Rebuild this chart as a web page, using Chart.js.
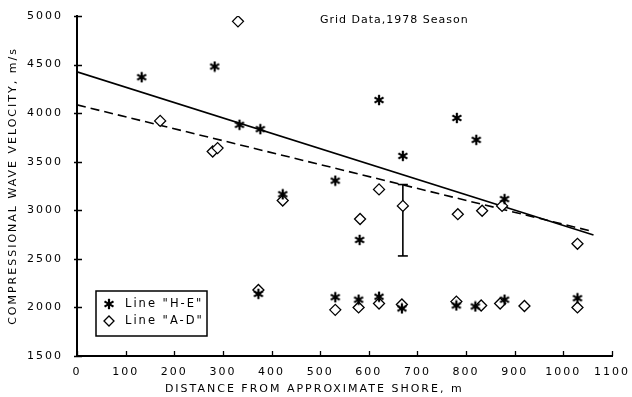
<!DOCTYPE html>
<html>
<head>
<meta charset="utf-8">
<script src="https://cdn.jsdelivr.net/npm/chart.js@4/dist/chart.umd.min.js"></script>
<style>
  html, body { margin: 0; padding: 0; background: #fff; }
  #wrap { width: 632px; height: 397px; }
</style>
</head>
<body>
<div id="wrap"><canvas id="c" width="632" height="397"></canvas></div>
<script>
// ---- Data ----
const xTicks = [0, 100, 200, 300, 400, 500, 600, 700, 800, 900, 1000, 1100];
const yTicks = [1500, 2000, 2500, 3000, 3500, 4000, 4500, 5000];

// Line "H-E" (asterisks)
const heX = [133, 283, 334, 377, 423, 531, 581, 621, 670, 781, 821, 879, 373, 531, 579, 621, 668, 780, 819, 879, 1029];
const heY = [4370, 4480, 3880, 3835, 3165, 3305, 2695, 4135, 3560, 3950, 3725, 3115, 2140, 2105, 2080, 2110, 1990, 2020, 2010, 2080, 2095];

// Line "A-D" (diamonds)
const adX = [171, 279, 289, 331, 423, 582, 621, 670, 783, 833, 874, 1029, 373, 531, 579, 621, 668, 780, 831, 870, 920, 1029];
const adY = [3920, 3605, 3640, 4945, 3100, 2910, 3215, 3045, 2960, 2995, 3045, 2655, 2180, 1975, 2000, 2040, 2030, 2060, 2020, 2040, 2015, 2000];

// Fitted lines (end points)
const fitX = [0, 1062];
const solidFitY = [4425, 2746];
const dashedFitY = [4085, 2780];

// Error bar
const errX = [670, 670];
const errY = [2530, 3265];

const titleText = "Grid Data,1978 Season";
const xTitle = "DISTANCE FROM APPROXIMATE SHORE, m";
const yTitle = "COMPRESSIONAL WAVE VELOCITY, m/s";
const legendLabels = ['Line "H-E"', 'Line "A-D"'];

// ---- helpers ----
const zip = (xs, ys) => xs.map((x, i) => ({ x: x, y: ys[i] }));

function makeStar(size, lw) {
  const c = document.createElement('canvas');
  c.width = size; c.height = size;
  const g = c.getContext('2d');
  g.strokeStyle = '#000'; g.lineWidth = lw;
  const r = size / 2 - 0.8, cx = size / 2, cy = size / 2;
  for (let k = 0; k < 3; k++) {
    const a = Math.PI / 2 + k * Math.PI / 3;
    g.beginPath();
    g.moveTo(cx + r * Math.cos(a), cy + r * Math.sin(a));
    g.lineTo(cx - r * Math.cos(a), cy - r * Math.sin(a));
    g.stroke();
  }
  return c;
}
const starImg = makeStar(12, 2.2);

Chart.defaults.font.family = "'DejaVu Sans', sans-serif";
Chart.defaults.font.size = 11;
Chart.defaults.color = '#000';

const spacingPlugin = {
  id: 'spacing',
  beforeUpdate(chart) { chart.ctx.letterSpacing = '2px'; },
  beforeDraw(chart) { chart.ctx.letterSpacing = '2px'; }
};

const extrasPlugin = {
  id: 'extras',
  afterDraw(chart) {
    const ctx = chart.ctx;
    const xs = chart.scales.x, ys = chart.scales.y;
    ctx.save();
    // inward tick marks, positioned through the scales
    ctx.strokeStyle = '#000';
    ctx.lineWidth = 1.3;
    ctx.beginPath();
    xTicks.forEach(v => {
      const px = Math.round(xs.getPixelForValue(v)) + 0.5;
      ctx.moveTo(px, ys.bottom);
      ctx.lineTo(px, ys.bottom - 5);
    });
    yTicks.forEach(v => {
      const py = Math.round(ys.getPixelForValue(v)) + 0.5;
      ctx.moveTo(xs.left - 3, py);
      ctx.lineTo(xs.left + 5, py);
    });
    ctx.stroke();

    // Inner title
    ctx.fillStyle = '#000';
    ctx.font = "11px 'DejaVu Sans', sans-serif";
    ctx.letterSpacing = '1px';
    ctx.textAlign = 'left';
    ctx.textBaseline = 'middle';
    ctx.fillText(titleText, 320, 20);

    // Legend box
    ctx.letterSpacing = '2px';
    ctx.lineWidth = 1.5;
    ctx.strokeRect(96, 291, 111, 45);
    ctx.drawImage(starImg, 109 - 6, 304 - 6);
    ctx.beginPath();
    const dx = 109, dy = 321, r = 5;
    ctx.moveTo(dx - r, dy); ctx.lineTo(dx, dy - r); ctx.lineTo(dx + r, dy); ctx.lineTo(dx, dy + r); ctx.closePath();
    ctx.lineWidth = 1.3;
    ctx.stroke();
    ctx.font = "11.5px 'DejaVu Sans', sans-serif";
    ctx.fillText(legendLabels[0], 125, 304);
    ctx.fillText(legendLabels[1], 125, 321);
    ctx.restore();
  }
};

new Chart(document.getElementById('c'), {
  type: 'scatter',
  data: {
    datasets: [
      {
        label: legendLabels[0],
        data: zip(heX, heY),
        pointStyle: starImg,
        pointRadius: 6,
        order: 0
      },
      {
        label: legendLabels[1],
        data: zip(adX, adY),
        pointStyle: 'rectRot',
        pointRadius: 5.5,
        pointBorderWidth: 1.3,
        pointBorderColor: '#000',
        pointBackgroundColor: '#fff',
        order: 1
      },
      {
        label: 'fit solid',
        data: zip(fitX, solidFitY),
        showLine: true,
        pointRadius: 0,
        borderColor: '#000',
        borderWidth: 1.6,
        order: 2
      },
      {
        label: 'fit dashed',
        data: zip(fitX, dashedFitY),
        showLine: true,
        pointRadius: 0,
        borderColor: '#000',
        borderWidth: 1.6,
        borderDash: [9, 5],
        order: 2
      },
      {
        label: 'error',
        data: zip(errX, errY),
        showLine: true,
        pointStyle: 'line',
        pointRadius: 5,
        pointBorderWidth: 1.6,
        pointBorderColor: '#000',
        borderColor: '#000',
        borderWidth: 1.6,
        order: 1.5
      }
    ]
  },
  options: {
    responsive: false,
    animation: false,
    events: [],
    layout: { padding: { top: 16, right: 20, left: 0, bottom: 0 } },
    plugins: {
      legend: { display: false },
      tooltip: { enabled: false }
    },
    scales: {
      x: {
        type: 'linear',
        min: 0, max: 1100,
        afterBuildTicks: (s) => { s.ticks = xTicks.map(v => ({ value: v })); },
        afterFit: (s) => { s.height = 41; },
        ticks: { padding: 2, color: '#000', maxRotation: 0, autoSkip: false, callback: (v) => String(v) },
        grid: { display: false },
        border: { color: '#000', width: 2 },
        title: {
          display: true,
          text: xTitle + '           ',
          color: '#000',
          padding: { top: 0, bottom: 1 }
        }
      },
      y: {
        type: 'linear',
        min: 1500, max: 5000,
        afterBuildTicks: (s) => { s.ticks = yTicks.map(v => ({ value: v })); },
        afterFit: (s) => { s.width = 77; },
        ticks: { padding: 6, color: '#000', autoSkip: false, callback: (v) => String(v) },
        grid: { display: false },
        border: { color: '#000', width: 2 },
        title: {
          display: true,
          text: yTitle,
          color: '#000',
          padding: { top: 7, bottom: 0 }
        }
      }
    }
  },
  plugins: [spacingPlugin, extrasPlugin]
});
</script>
</body>
</html>
